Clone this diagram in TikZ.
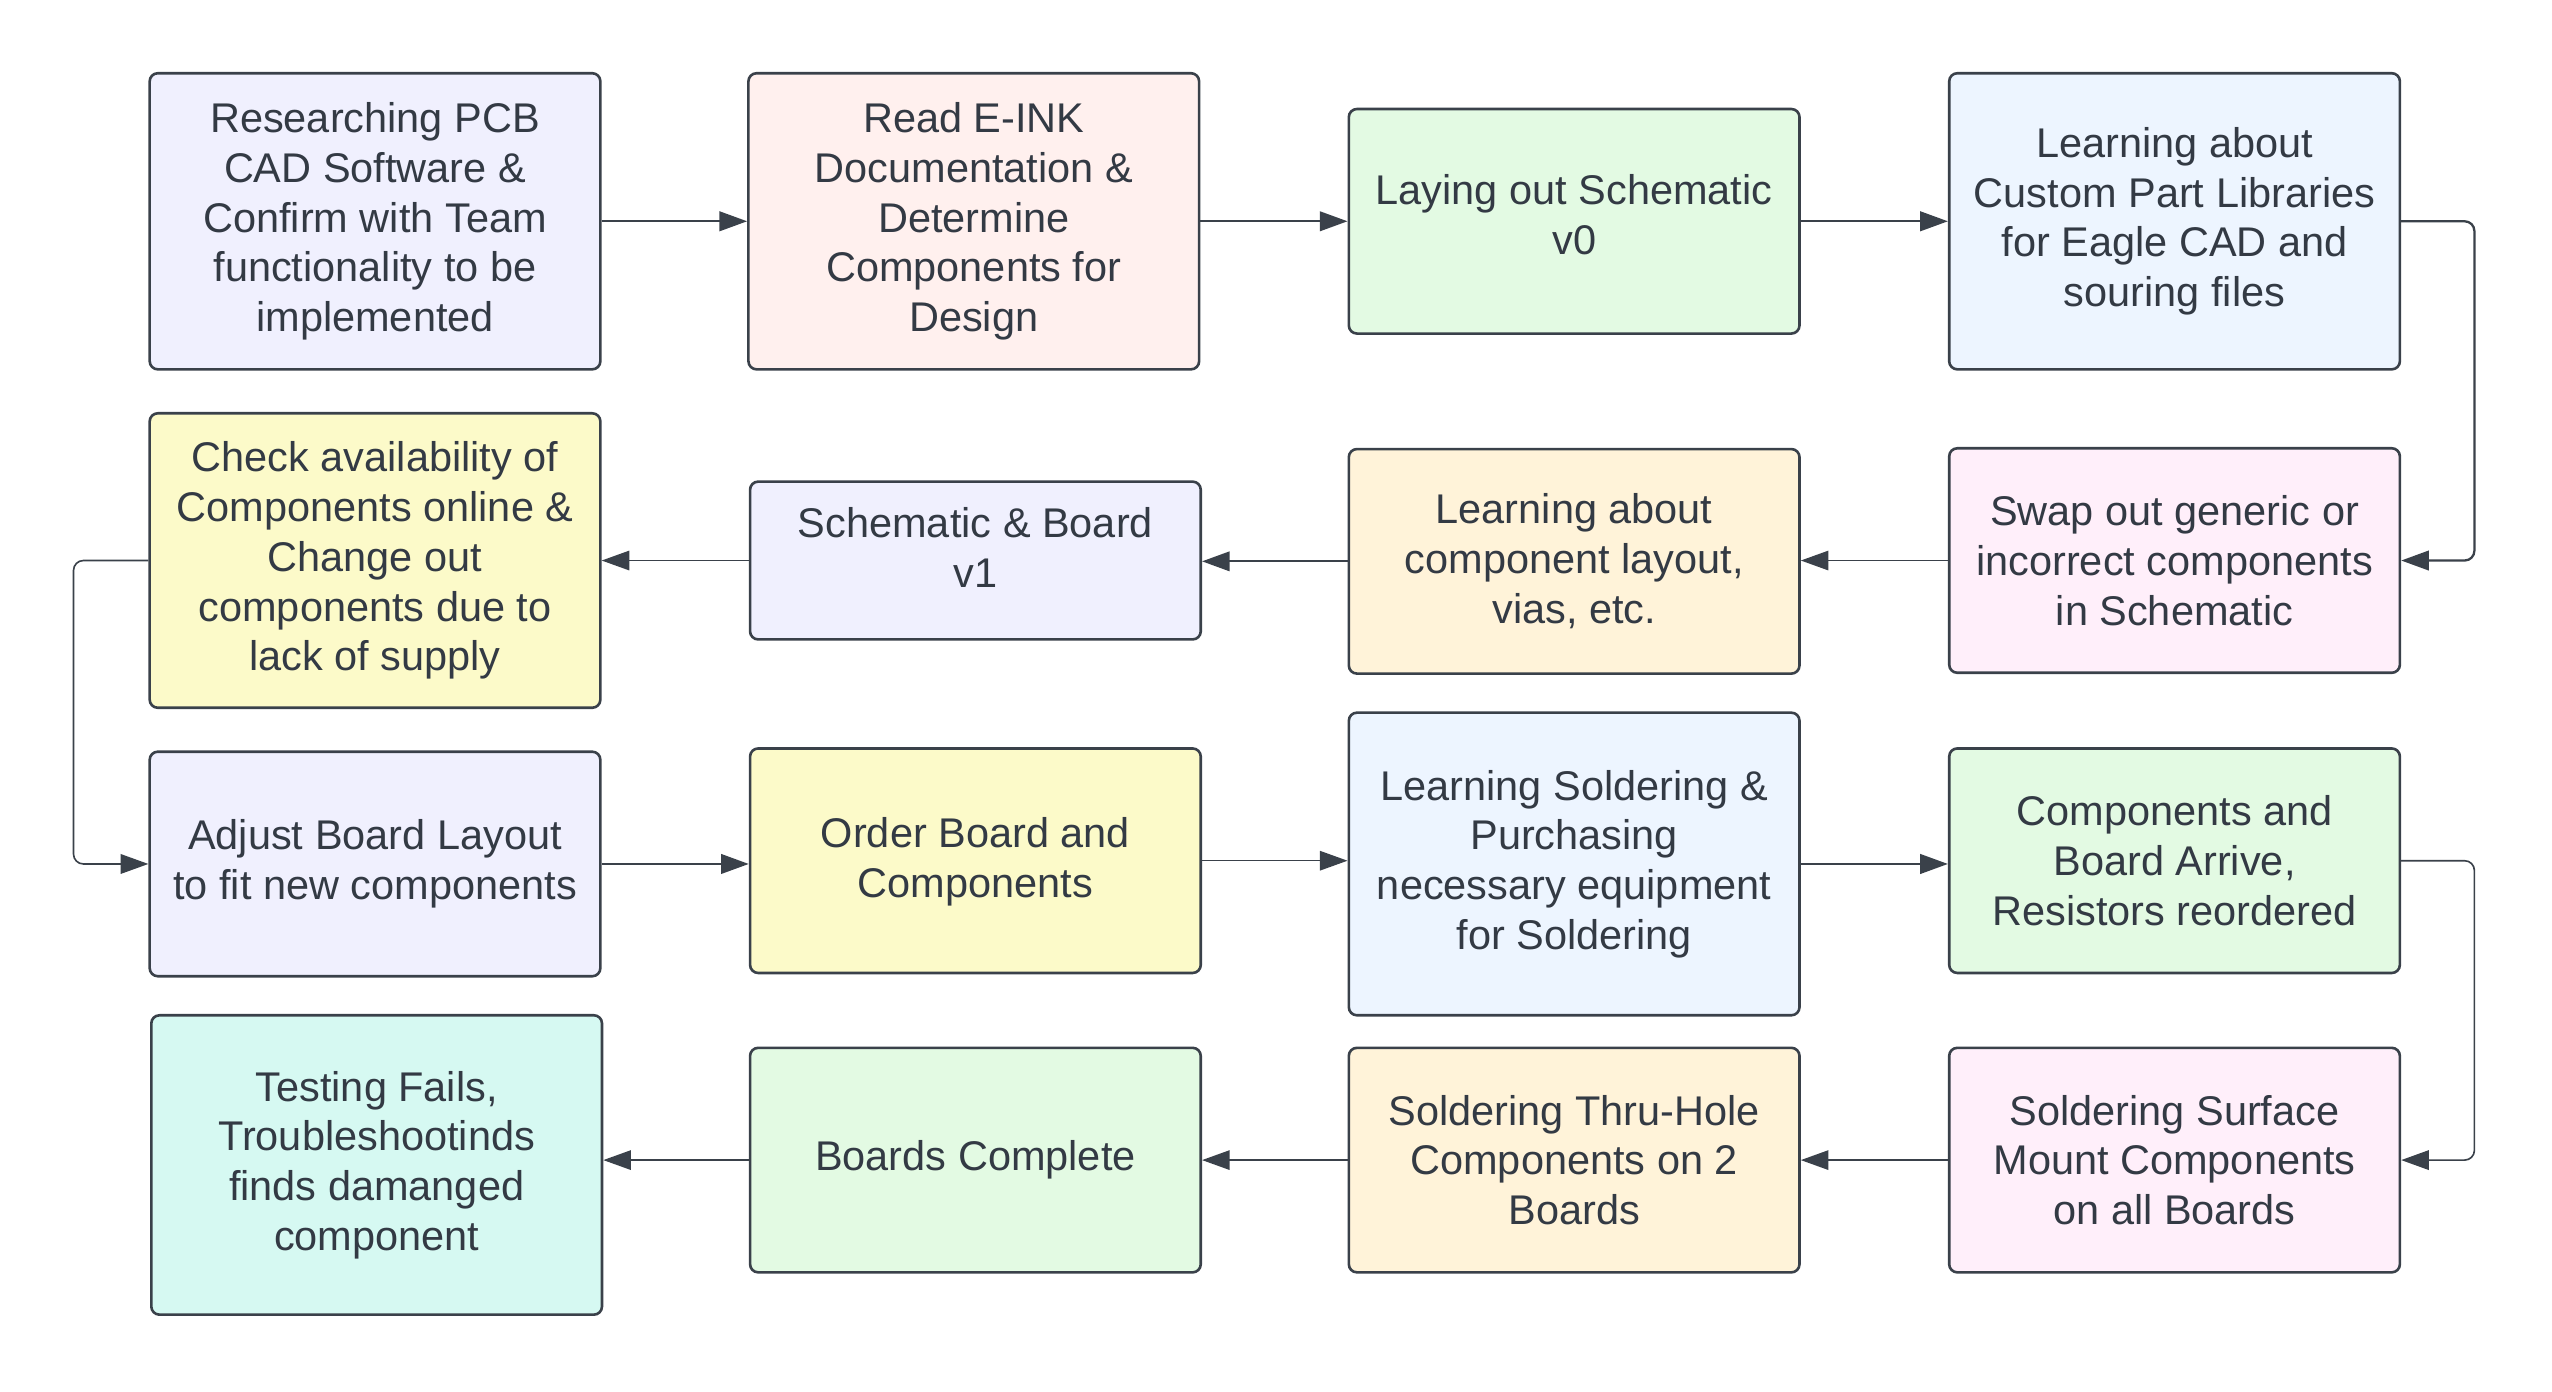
\documentclass[tikz,border=0pt]{standalone}
\usepackage{fontspec}
\setmainfont{Liberation Sans}
\usetikzlibrary{arrows.meta}
\definecolor{edge}{HTML}{3A414A}
\definecolor{txt}{HTML}{333A44}
\definecolor{lavender}{HTML}{F0F0FE}
\definecolor{rose}{HTML}{FFF0EE}
\definecolor{mint}{HTML}{E3FAE3}
\definecolor{sky}{HTML}{EDF5FF}
\definecolor{pink}{HTML}{FFEFFA}
\definecolor{peach}{HTML}{FFF3D9}
\definecolor{lemon}{HTML}{FCFAC9}
\definecolor{teal}{HTML}{D6F9F2}
\tikzset{
  stepbox/.style={draw=edge, line width=1.6pt, rounded corners=5pt,
    minimum width=277pt, minimum height=138pt, align=center, inner sep=0pt,
    text=txt, font=\fontsize{25.5}{30.6}\selectfont},
  flow/.style={draw=edge, line width=1.4pt, -{Triangle[length=17pt,width=12pt]}}
}
\begin{document}
\begin{tikzpicture}[x=1pt,y=-1pt]
\useasboundingbox (0,0) rectangle (1568.5,855);
% first row
\node[stepbox, fill=lavender, minimum height=182pt] (research) at (230.5,136) {Researching PCB\\CAD Software \&\\Confirm with Team\\functionality to be\\implemented};
\node[stepbox, fill=rose, minimum height=182pt] (eink) at (598.5,136) {Read E-INK\\Documentation \&\\Determine\\Components for\\Design};
\node[stepbox, fill=mint, text depth=8pt] (schem0) at (967.5,136) {Laying out Schematic\\v0};
\node[stepbox, fill=sky, minimum height=182pt] (library) at (1336.5,136) {Learning about\\Custom Part Libraries\\for Eagle CAD and\\souring files};
% second row
\node[stepbox, fill=pink] (swap) at (1336.5,344.5) {Swap out generic or\\incorrect components\\in Schematic};
\node[stepbox, fill=peach] (layout) at (967.5,345) {Learning about\\component layout,\\vias, etc.};
\node[stepbox, fill=lavender, minimum height=97pt, text depth=16pt] (schem1) at (599.5,344.5) {Schematic \& Board\\v1};
\node[stepbox, fill=lemon, minimum height=181pt] (check) at (230.5,344.5) {Check availability of\\Components online \&\\Change out\\components due to\\lack of supply};
% third row
\node[stepbox, fill=lavender] (adjust) at (230.5,531) {Adjust Board Layout\\to fit new components};
\node[stepbox, fill=lemon, text depth=4pt] (order) at (599.5,529) {Order Board and\\Components};
\node[stepbox, fill=sky, minimum height=186pt] (learnsolder) at (967.5,531) {Learning Soldering \&\\Purchasing\\necessary equipment\\for Soldering};
\node[stepbox, fill=mint] (arrive) at (1336.5,529) {Components and\\Board Arrive,\\Resistors reordered};
% fourth row
\node[stepbox, fill=pink] (smd) at (1336.5,713) {Soldering Surface\\Mount Components\\on all Boards};
\node[stepbox, fill=peach] (thruhole) at (967.5,713) {Soldering Thru-Hole\\Components on 2\\Boards};
\node[stepbox, fill=mint] (complete) at (599.5,713) {Boards Complete};
\node[stepbox, fill=teal, minimum height=184pt] (testing) at (231.5,716) {Testing Fails,\\Troubleshootinds\\finds damanged\\component};
% connectors
\draw[flow] (research) -- (eink);
\draw[flow] (eink) -- (schem0);
\draw[flow] (schem0) -- (library);
\draw[flow, rounded corners=6pt] (library.east) -- ++(45,0) |- (swap.east);
\draw[flow, line width=0.9pt] (swap.west) -- (swap.west -| layout.east);
\draw[flow] (layout.west) -- (layout.west -| schem1.east);
\draw[flow, line width=0.9pt] (schem1.west) -- (schem1.west -| check.east);
\draw[flow, line width=1pt, rounded corners=6pt] (check.west) -- ++(-46,0) |- (adjust.west);
\draw[flow] (adjust.east) -- (adjust.east -| order.west);
\draw[flow, line width=0.9pt] (order.east) -- (order.east -| learnsolder.west);
\draw[flow] (learnsolder.east) -- (learnsolder.east -| arrive.west);
\draw[flow, line width=1pt, rounded corners=6pt] (arrive.east) -- ++(45,0) |- (smd.east);
\draw[flow, line width=0.9pt] (smd.west) -- (smd.west -| thruhole.east);
\draw[flow, line width=0.9pt] (thruhole.west) -- (thruhole.west -| complete.east);
\draw[flow, line width=0.9pt] (complete.west) -- (complete.west -| testing.east);
\end{tikzpicture}
\end{document}
